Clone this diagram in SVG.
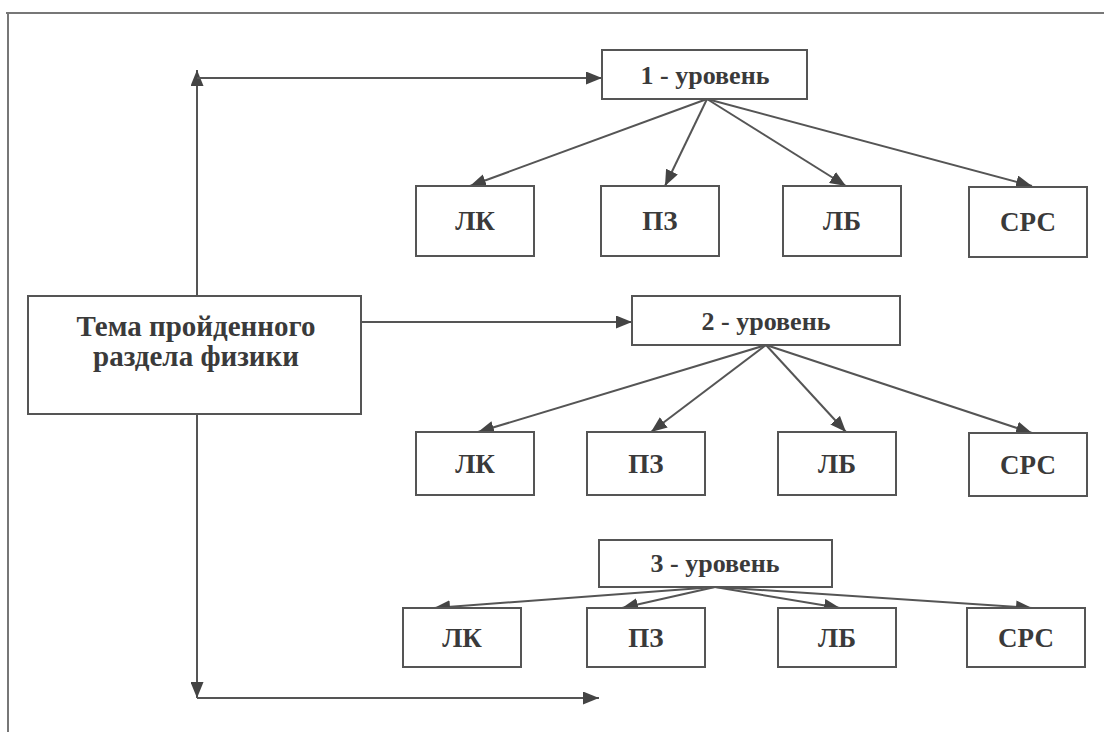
<svg xmlns="http://www.w3.org/2000/svg" width="1104" height="732" viewBox="0 0 1104 732">
<defs>
<marker id="ah" viewBox="0 0 16 13" refX="16" refY="6.5" markerWidth="16" markerHeight="13" markerUnits="userSpaceOnUse" orient="auto">
<path d="M0,0 L16,6.5 L0,13 Z" fill="#444"/>
</marker>
</defs>
<style>
.box{fill:#fff;stroke:#555;stroke-width:2}
.t{font-family:"Liberation Serif","Times New Roman",serif;font-weight:bold;fill:#3a3a3a;text-anchor:middle;dominant-baseline:central}
.lv{font-size:26px}
.sm{font-size:27px}
.mn{font-size:29px}
.c line,.c path{stroke:#555;stroke-width:2;fill:none}
.a{marker-end:url(#ah)}
</style>
<rect width="1104" height="732" fill="#fff"/>
<g id="frame">
<line x1="6" y1="13" x2="1104" y2="13" stroke="#777" stroke-width="2"/>
<line x1="8" y1="13" x2="8" y2="732" stroke="#777" stroke-width="2"/>
</g>
<g class="c" id="connectors">
<line x1="197" y1="296" x2="197" y2="70" class="a"/>
<line x1="197" y1="78" x2="602" y2="78" class="a"/>
<line x1="361" y1="322" x2="632" y2="322" class="a"/>
<line x1="197" y1="414" x2="197" y2="698" class="a"/>
<line x1="197" y1="698" x2="599" y2="698" class="a"/>
<line x1="707" y1="99" x2="470" y2="186" class="a"/>
<line x1="707" y1="99" x2="665" y2="186" class="a"/>
<line x1="707" y1="99" x2="846" y2="186" class="a"/>
<line x1="707" y1="99" x2="1032" y2="186" class="a"/>
<line x1="766" y1="345" x2="478" y2="432" class="a"/>
<line x1="766" y1="345" x2="651" y2="432" class="a"/>
<line x1="766" y1="345" x2="846" y2="432" class="a"/>
<line x1="766" y1="345" x2="1032" y2="433" class="a"/>
<line x1="715" y1="587" x2="434" y2="608" class="a"/>
<line x1="715" y1="587" x2="622" y2="608" class="a"/>
<line x1="715" y1="587" x2="840" y2="608" class="a"/>
<line x1="715" y1="587" x2="1032" y2="608" class="a"/>
</g>
<g id="main"><rect class="box" x="28" y="296" width="333" height="118"/>
<text class="t mn" x="196" y="326">Тема пройденного</text>
<text class="t mn" x="196" y="356">раздела физики</text></g>
<g id="lvl1"><rect class="box" x="602" y="50" width="205" height="49"/><text class="t lv" x="705" y="75">1 - уровень</text></g>
<g id="r1lk"><rect class="box" x="416" y="186" width="118" height="70"/><text class="t sm" x="475" y="221">ЛК</text></g>
<g id="r1pz"><rect class="box" x="601" y="186" width="118" height="70"/><text class="t sm" x="660" y="221">ПЗ</text></g>
<g id="r1lb"><rect class="box" x="783" y="186" width="118" height="70"/><text class="t sm" x="842" y="221">ЛБ</text></g>
<g id="r1srs"><rect class="box" x="969" y="187" width="118" height="70"/><text class="t sm" x="1028" y="222">СРС</text></g>
<g id="lvl2"><rect class="box" x="632" y="296" width="268" height="49"/><text class="t lv" x="766" y="321">2 - уровень</text></g>
<g id="r2lk"><rect class="box" x="416" y="432" width="118" height="63"/><text class="t sm" x="475" y="464">ЛК</text></g>
<g id="r2pz"><rect class="box" x="587" y="432" width="118" height="63"/><text class="t sm" x="646" y="464">ПЗ</text></g>
<g id="r2lb"><rect class="box" x="778" y="432" width="118" height="63"/><text class="t sm" x="837" y="464">ЛБ</text></g>
<g id="r2srs"><rect class="box" x="969" y="433" width="118" height="63"/><text class="t sm" x="1028" y="465">СРС</text></g>
<g id="lvl3"><rect class="box" x="599" y="540" width="233" height="47"/><text class="t lv" x="715" y="563">3 - уровень</text></g>
<g id="r3lk"><rect class="box" x="403" y="608" width="118" height="59"/><text class="t sm" x="462" y="638">ЛК</text></g>
<g id="r3pz"><rect class="box" x="587" y="608" width="118" height="59"/><text class="t sm" x="646" y="638">ПЗ</text></g>
<g id="r3lb"><rect class="box" x="778" y="608" width="118" height="59"/><text class="t sm" x="837" y="638">ЛБ</text></g>
<g id="r3srs"><rect class="box" x="967" y="608" width="118" height="59"/><text class="t sm" x="1026" y="638">СРС</text></g>
</svg>
